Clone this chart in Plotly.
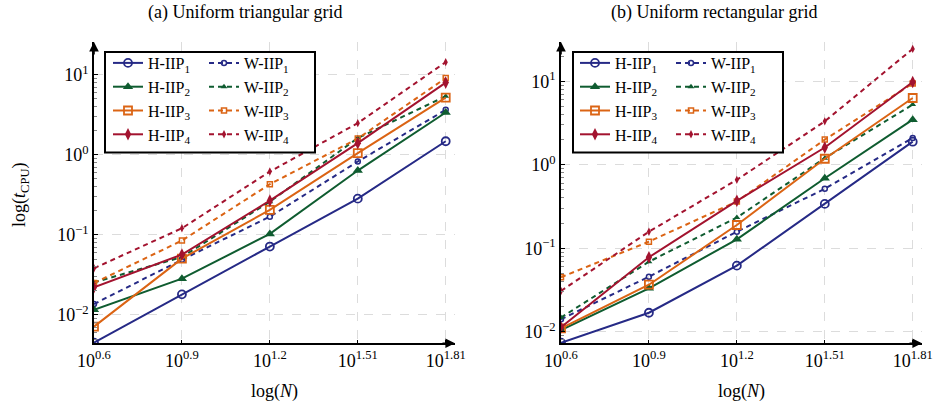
import plotly.graph_objects as go

# ---------------- data ----------------
N = [4, 8, 16, 32, 64]
x_tick_text = ["10<sup>0.6</sup>", "10<sup>0.9</sup>", "10<sup>1.2</sup>", "10<sup>1.51</sup>", "10<sup>1.81</sup>"]
y_tick_vals = [0.01, 0.1, 1, 10]
y_tick_text = ["10<sup>\u22122</sup>", "10<sup>\u22121</sup>", "10<sup>0</sup>", "10<sup>1</sup>"]

tri_H1 = [0.0045, 0.0181, 0.0715, 0.284, 1.48]
tri_H2 = [0.0116, 0.0284, 0.103, 0.637, 3.38]
tri_H3 = [0.00715, 0.0506, 0.205, 1.05, 5.2]
tri_H4 = [0.0222, 0.0568, 0.268, 1.40, 8.0]
tri_W1 = [0.0137, 0.049, 0.169, 0.826, 3.65]
tri_W2 = [0.0255, 0.053, 0.26, 1.62, 5.4]
tri_W3 = [0.025, 0.085, 0.43, 1.6, 9.1]
tri_W4 = [0.0383, 0.121, 0.619, 2.49, 14.4]

rect_H1 = [0.0074, 0.0169, 0.0619, 0.340, 1.89]
rect_H2 = [0.0105, 0.0331, 0.128, 0.69, 3.47]
rect_H3 = [0.011, 0.0366, 0.19, 1.18, 6.3]
rect_H4 = [0.0113, 0.078, 0.37, 1.61, 9.8]
rect_W1 = [0.0141, 0.0457, 0.158, 0.515, 2.09]
rect_W2 = [0.0148, 0.069, 0.233, 1.2, 5.25]
rect_W3 = [0.045, 0.12, 0.363, 2.0, 9.4]
rect_W4 = [0.0308, 0.158, 0.66, 3.31, 24.4]

titles = ["(a) Uniform triangular grid", "(b) Uniform rectangular grid"]
series_names_H = ["H-IIP<sub>1</sub>", "H-IIP<sub>2</sub>", "H-IIP<sub>3</sub>", "H-IIP<sub>4</sub>"]
series_names_W = ["W-IIP<sub>1</sub>", "W-IIP<sub>2</sub>", "W-IIP<sub>3</sub>", "W-IIP<sub>4</sub>"]

# ---------------- style ----------------
W, H = 935, 409
FONT = "Liberation Serif"
colors = ["#262a86", "#0f5c30", "#db6414", "#a3132f"]
h_markers = [dict(symbol="circle-open", size=8, line=dict(width=1.8)),
             dict(symbol="triangle-up", size=9),
             dict(symbol="square-open", size=8, line=dict(width=1.8)),
             dict(symbol="diamond-tall", size=9)]
w_markers = [dict(symbol="circle-open", size=5, line=dict(width=1.5)),
             dict(symbol="triangle-up", size=6),
             dict(symbol="square-open", size=5, line=dict(width=1.5)),
             dict(symbol="diamond-tall", size=6)]


def px(v):
    return v / W


def py(v):
    return 1 - v / H


dom_x = [[px(94), px(455)], [px(561), px(922)]]
dom_y = [py(343.3), py(42)]
y_ranges = [[-2.354, 1.41], [-2.138, 1.47]]
x_range = [0.6021, 1.838]

fig = go.Figure()

data_sets = [
    ([tri_H1, tri_H2, tri_H3, tri_H4], [tri_W1, tri_W2, tri_W3, tri_W4]),
    ([rect_H1, rect_H2, rect_H3, rect_H4], [rect_W1, rect_W2, rect_W3, rect_W4]),
]

for p, (Hs, Ws) in enumerate(data_sets):
    xa = "x" if p == 0 else "x2"
    ya = "y" if p == 0 else "y2"
    lgH = "legend" if p == 0 else "legend3"
    lgW = "legend2" if p == 0 else "legend4"
    for i, ys in enumerate(Ws):
        fig.add_trace(go.Scatter(
            x=N, y=ys, xaxis=xa, yaxis=ya, mode="lines+markers",
            name=series_names_W[i], legend=lgW,
            line=dict(color=colors[i], width=2, dash="5px,4px"),
            marker=dict(color=colors[i], **w_markers[i]),
        ))
    for i, ys in enumerate(Hs):
        fig.add_trace(go.Scatter(
            x=N, y=ys, xaxis=xa, yaxis=ya, mode="lines+markers",
            name=series_names_H[i], legend=lgH,
            line=dict(color=colors[i], width=2),
            marker=dict(color=colors[i], **h_markers[i]),
        ))

minor_vals = [m * 10 ** e for e in range(-3, 2) for m in range(2, 10)]

axis_common = dict(
    showline=True, linecolor="black", linewidth=1.6,
    showgrid=True, gridcolor="#dcdcdc", griddash="dash", gridwidth=1,
    zeroline=False, ticks="inside", ticklen=4, tickcolor="black",
    tickfont=dict(family=FONT, size=18, color="black"),
    automargin=False,
)

for p in range(2):
    sx = "" if p == 0 else "2"
    fig.layout["xaxis" + sx] = dict(
        axis_common, type="log", domain=dom_x[p], range=x_range,
        tickvals=N, ticktext=x_tick_text, anchor="y" + sx,
    )
    fig.layout["yaxis" + sx] = dict(
        axis_common, type="log", domain=dom_y, range=y_ranges[p],
        tickvals=y_tick_vals, ticktext=y_tick_text, anchor="x" + sx,
        minor=dict(tickvals=minor_vals, ticks="inside", ticklen=3,
                   tickcolor="#888888", showgrid=False),
    )

legend_common = dict(
    orientation="v", xanchor="left", yanchor="top",
    bgcolor="rgba(0,0,0,0)", borderwidth=0,
    font=dict(family=FONT, size=16, color="black"),
    itemwidth=30, tracegroupgap=0, traceorder="normal",
)
LEG_TOP = 46
fig.update_layout(
    legend=dict(legend_common, x=px(108), y=py(LEG_TOP)),
    legend2=dict(legend_common, x=px(204), y=py(LEG_TOP)),
    legend3=dict(legend_common, x=px(575), y=py(LEG_TOP)),
    legend4=dict(legend_common, x=px(671), y=py(LEG_TOP)),
)

shapes = []
for (x0, x1) in [(105, 315), (573, 783)]:
    shapes.append(dict(type="rect", xref="paper", yref="paper",
                       x0=px(x0), x1=px(x1), y0=py(152.5), y1=py(52),
                       line=dict(color="black", width=2), fillcolor="white",
                       layer="above"))

annotations = []
for p in range(2):
    sx = "" if p == 0 else "2"
    annotations.append(dict(x=1.0, y=0, xref="x%s domain" % sx, yref="y%s domain" % sx,
                            ax=-14, ay=0, showarrow=True, arrowhead=2, arrowsize=1.2,
                            arrowwidth=1.6, arrowcolor="black", text=""))
    annotations.append(dict(x=0, y=1.0, xref="x%s domain" % sx, yref="y%s domain" % sx,
                            ax=0, ay=14, showarrow=True, arrowhead=2, arrowsize=1.2,
                            arrowwidth=1.6, arrowcolor="black", text=""))

for cx, t in zip([245, 714], titles):
    annotations.append(dict(x=px(cx), y=py(12), xref="paper", yref="paper",
                            text=t, showarrow=False, xanchor="center", yanchor="middle",
                            font=dict(family=FONT, size=18, color="black")))
for cx in [274, 741]:
    annotations.append(dict(x=px(cx), y=py(391), xref="paper", yref="paper",
                            text="log(<i>N</i>)", showarrow=False, xanchor="center",
                            yanchor="middle", font=dict(family=FONT, size=18, color="black")))
annotations.append(dict(x=px(21), y=py(195), xref="paper", yref="paper",
                        text="log(<i>t</i><sub>CPU</sub>)", showarrow=False, textangle=-90,
                        xanchor="center", yanchor="middle",
                        font=dict(family=FONT, size=18, color="black")))

fig.update_layout(
    width=W, height=H,
    margin=dict(l=0, r=0, t=0, b=0),
    paper_bgcolor="white", plot_bgcolor="white",
    shapes=shapes, annotations=annotations,
    showlegend=True,
    font=dict(family=FONT, color="black"),
)

# remove the browser's default 8px page margin so the figure fills the window
fig.write_html("out.html", config={"displayModeBar": False},
               post_script="document.body.style.margin='0';")
